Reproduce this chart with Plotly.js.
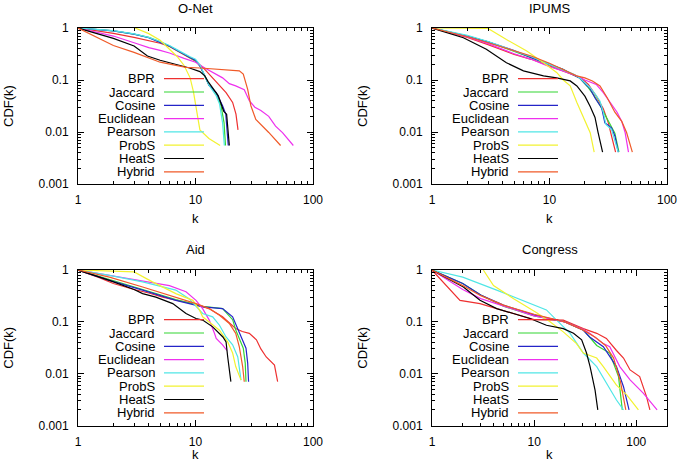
<!DOCTYPE html>
<html><head><meta charset="utf-8">
<script src="https://cdn.plot.ly/plotly-3.0.1.min.js"></script>
<style>html,body{margin:0;padding:0;background:#fff}</style>
</head><body><div id="chart" style="width:681px;height:466px"></div>
<script>
// ---------- categories / labels ----------
const methods = ['BPR','Jaccard','Cosine','Euclidean','Pearson','ProbS','HeatS','Hybrid'];
const datasets = ['O-Net','IPUMS','Aid','Congress'];
const xTickVals = [1, 10, 100];
const xTickText = ['1', '10', '100'];
const yTickVals = [0.001, 0.01, 0.1, 1];
const yTickText = ['0.001', '0.01', '0.1', '1'];
const xTitle = 'k';
const yTitle = 'CDF(k)';

// ---------- O-Net  [k, CDF(k)] ----------
const onetBPR = [[1,1],[2,0.79],[3,0.66],[4,0.58],[5,0.51],[6,0.44],[8,0.3],[10.2,0.225],[12,0.16],[14.5,0.1],[16,0.075],[18.2,0.057],[20.7,0.037],[22.1,0.022],[23,0.011]];
const onetJaccard = [[1,1],[2,0.88],[3,0.76],[4,0.66],[5,0.54],[6,0.45],[7,0.37],[8,0.31],[9,0.27],[10,0.235],[11,0.18],[12,0.12],[13,0.08],[15,0.055],[16.5,0.032],[17.5,0.015],[18,0.0055]];
const onetCosine = [[1,1],[2,0.88],[3,0.76],[4,0.65],[5,0.53],[6,0.45],[7,0.37],[8,0.31],[9,0.27],[10,0.24],[11,0.18],[12,0.12],[13,0.08],[15,0.057],[17,0.032],[18.1,0.022],[19,0.0055]];
const onetEuclidean = [[1,1],[2,0.7],[3,0.52],[4,0.42],[5,0.37],[6,0.33],[8,0.26],[10,0.22],[12,0.17],[14,0.14],[17,0.11],[19.4,0.085],[22,0.077],[26,0.065],[28.7,0.04],[32,0.03],[36,0.026],[42,0.02],[48,0.013],[55,0.0097],[68,0.0055]];
const onetPearson = [[1,1],[2,0.89],[3,0.77],[4,0.66],[5,0.55],[6,0.46],[7,0.38],[8,0.32],[9,0.28],[10,0.25],[11,0.19],[12,0.12],[13,0.08],[15,0.05],[16,0.035],[17,0.015],[17.6,0.0055]];
const onetProbS = [[3.06,1],[4,0.78],[5,0.58],[6,0.4],[7,0.28],[8,0.19],[9,0.11],[9.6,0.06],[10.2,0.025],[10.9,0.011],[13,0.0075],[16.2,0.0055]];
const onetHeatS = [[1,1],[2,0.63],[3,0.45],[3.9,0.29],[5,0.24],[6.8,0.2],[8.9,0.17],[10.9,0.145],[12,0.12],[12.8,0.093],[14,0.07],[15.6,0.05],[17.4,0.025],[18.4,0.022],[19.4,0.0055]];
const onetHybrid = [[1,1],[2,0.46],[3,0.34],[4,0.27],[5,0.22],[6.5,0.195],[8.3,0.175],[11,0.17],[17,0.16],[21,0.155],[23.6,0.15],[25.5,0.13],[26.5,0.1],[27.8,0.066],[29.6,0.032],[32.6,0.0175],[42,0.0098],[53,0.0055]];

// ---------- IPUMS ----------
const ipumsBPR = [[1,1],[2,0.66],[3,0.48],[5,0.31],[7,0.25],[10,0.19],[13,0.15],[16,0.125],[18.5,0.11],[21.4,0.082],[25,0.049],[28.7,0.028],[31.7,0.015],[33.7,0.0084],[36.5,0.0041]];
const ipumsJaccard = [[1,1],[2,0.7],[3,0.54],[5,0.36],[7,0.27],[10,0.2],[13,0.16],[16,0.125],[18,0.11],[21,0.075],[24,0.05],[27,0.032],[30,0.02],[33,0.014],[36,0.0095],[39,0.0041]];
const ipumsCosine = [[1,1],[2,0.7],[3,0.54],[5,0.37],[7,0.27],[10,0.2],[13,0.16],[16,0.125],[18,0.11],[20.6,0.08],[22,0.07],[24.4,0.045],[27.8,0.029],[29.6,0.015],[33.7,0.012],[36,0.0084],[38.5,0.0041]];
const ipumsEuclidean = [[1,1],[2,0.67],[3,0.5],[5,0.32],[7,0.25],[10,0.18],[13,0.15],[17,0.12],[20,0.1],[25,0.082],[28.7,0.057],[32.9,0.037],[37.6,0.024],[41.2,0.016],[44,0.0098],[47,0.0041]];
const ipumsPearson = [[1,1],[2,0.72],[3,0.55],[5,0.37],[7,0.28],[10,0.2],[13,0.16],[16,0.13],[18,0.11],[22.2,0.071],[25,0.05],[26.9,0.039],[28.7,0.024],[30.2,0.014],[33.7,0.0112],[38.5,0.0041]];
const ipumsProbS = [[1,1],[3,0.98],[4.3,0.6],[6.4,0.36],[8.9,0.215],[11.5,0.14],[13.1,0.1],[15,0.077],[17.1,0.037],[19.4,0.019],[22.2,0.0097],[24,0.0041]];
const ipumsHeatS = [[1,1],[1.85,0.65],[2.9,0.39],[4.3,0.215],[6,0.15],[8.9,0.12],[11.5,0.11],[15,0.096],[17.1,0.077],[20,0.049],[22.2,0.031],[24.4,0.019],[25.9,0.0098],[28.3,0.0041]];
const ipumsHybrid = [[1,1],[2,0.68],[3,0.52],[5,0.36],[7,0.29],[10,0.21],[13,0.16],[17,0.12],[20,0.11],[23.2,0.096],[26.9,0.077],[30.9,0.046],[36,0.024],[41.2,0.016],[45.3,0.0098],[50.7,0.0041]];

// ---------- Aid ----------
const aidBPR = [[1,1],[1.5,0.72],[2,0.55],[3,0.42],[4,0.36],[5.25,0.3],[7,0.26],[10,0.22],[13,0.18],[15,0.15],[17,0.125],[20,0.09],[22,0.074],[25,0.065],[28.7,0.06],[33,0.045],[36,0.03],[40,0.021],[47,0.0146],[50,0.007]];
const aidJaccard = [[1,1],[1.85,0.65],[3.55,0.42],[6.8,0.27],[11.5,0.2],[17,0.18],[20.7,0.11],[22,0.07],[25.5,0.031],[26.5,0.016],[26.9,0.007]];
const aidCosine = [[1,1],[1.85,0.63],[3.55,0.41],[6.8,0.26],[11.5,0.195],[17,0.18],[20.7,0.125],[23.6,0.064],[26.9,0.031],[27.8,0.016],[28.3,0.007]];
const aidEuclidean = [[1,1],[1.85,0.79],[3.55,0.63],[6,0.5],[8.3,0.38],[10.1,0.26],[11.5,0.18],[13.1,0.108],[14.5,0.06],[15,0.048],[17,0.036],[18.5,0.028]];
const aidPearson = [[1,1],[1.85,0.79],[3.55,0.59],[6.8,0.41],[8.8,0.28],[10,0.2],[11.5,0.145],[14,0.125],[16,0.086],[18.2,0.051],[20.7,0.036],[22.9,0.021],[24.4,0.0075]];
const aidProbS = [[1,1],[3,0.92],[4.3,0.59],[6.8,0.35],[9.5,0.26],[10.8,0.17],[11.5,0.125],[13.1,0.1],[16,0.069],[18.8,0.041],[20.7,0.025],[22,0.0137],[24.4,0.0075]];
const aidHeatS = [[1,1],[1.85,0.63],[3,0.42],[3.55,0.35],[4.6,0.3],[6.4,0.225],[8.3,0.145],[10.1,0.116],[11.5,0.108],[14,0.08],[17.1,0.051],[18.2,0.041],[18.8,0.021],[20,0.007]];
const aidHybrid = [[1,1],[1.85,0.73],[3.55,0.47],[6.8,0.3],[10.1,0.225],[13.1,0.18],[16,0.134],[19.4,0.093],[22,0.06],[23.6,0.033],[25.2,0.0137],[26,0.007]];

// ---------- Congress ----------
const congBPR = [[1,1],[1.88,0.26],[2.95,0.225],[6.25,0.145],[10,0.11],[19.3,0.108],[30.3,0.074],[41,0.06],[51,0.048],[64,0.028],[75,0.02],[87,0.0118],[108,0.0088],[126,0.0036],[136,0.002]];
const congJaccard = [[1,1],[2,0.55],[3,0.33],[5,0.2],[10,0.13],[20,0.1],[30.3,0.07],[41,0.035],[55,0.025],[67,0.0088],[73,0.002]];
const congCosine = [[1,1],[2,0.55],[3,0.33],[5,0.21],[10,0.135],[20,0.1],[30,0.07],[35,0.051],[47.6,0.033],[64,0.0137],[75,0.0056],[85,0.002]];
const congEuclidean = [[1,1],[2,0.42],[3,0.28],[5,0.2],[10,0.13],[20,0.1],[30,0.072],[35,0.06],[47.6,0.038],[55,0.033],[69,0.0137],[87,0.0076],[117,0.0042],[160,0.002]];
const congPearson = [[1,1],[2,0.73],[4.3,0.41],[7.8,0.26],[13.2,0.17],[16.6,0.108],[22.5,0.06],[30.3,0.025],[41,0.0137],[51,0.0066],[64,0.0031],[75,0.002]];
const congProbS = [[3.18,1],[4,0.5],[6.3,0.28],[10.6,0.15],[14.3,0.1],[19.3,0.064],[26,0.038],[30.3,0.025],[41,0.02],[47.6,0.0137],[64,0.006],[80.6,0.0039],[105,0.002]];
const congHeatS = [[1,1],[2.03,0.47],[2.95,0.26],[4.3,0.18],[6.25,0.145],[9.1,0.116],[13.2,0.086],[19.3,0.074],[24.3,0.06],[29.2,0.045],[32.6,0.025],[35.3,0.0137],[39.5,0.0048],[42,0.002]];
const congHybrid = [[1,1],[2,0.5],[3,0.32],[5,0.21],[10,0.14],[20,0.1],[30,0.07],[40,0.05],[50,0.035],[60,0.02],[70,0.007],[79,0.002]];

const curves = [
  [onetBPR, onetJaccard, onetCosine, onetEuclidean, onetPearson, onetProbS, onetHeatS, onetHybrid],
  [ipumsBPR, ipumsJaccard, ipumsCosine, ipumsEuclidean, ipumsPearson, ipumsProbS, ipumsHeatS, ipumsHybrid],
  [aidBPR, aidJaccard, aidCosine, aidEuclidean, aidPearson, aidProbS, aidHeatS, aidHybrid],
  [congBPR, congJaccard, congCosine, congEuclidean, congPearson, congProbS, congHeatS, congHybrid]
];

// ---------- styling ----------
const colors = ['#ee3030','#33d633','#2424c8','#ee30ee','#50e6e6','#f2f230','#000000','#f05a28'];
const W = 681, H = 466;
const FONT = 'Liberation Sans, Arial, sans-serif';
const px = v => v / W;
const py = v => 1 - v / H;
// plot boxes in pixels [left, right, top, bottom]
const boxes = [[78,313,28,184],[432,667,28,184],[78,313,270,425.5],[432,667,270,425.5]];
const xMax = [100, 100, 100, 200];

function minorVals(lo, hi) {
  const out = [];
  for (let d = lo; d < hi; d *= 10) for (let j = 2; j <= 9; j++) { const v = j * d; if (v < hi * 1.0001) out.push(v); }
  return out;
}

const traces = [];
curves.forEach((set, d) => {
  const ax = d === 0 ? '' : String(d + 1);
  set.forEach((pts, m) => {
    traces.push({
      type: 'scatter', mode: 'lines', name: methods[m],
      x: pts.map(p => p[0]), y: pts.map(p => p[1]),
      xaxis: 'x' + ax, yaxis: 'y' + ax,
      line: {color: colors[m], width: 1.2},
      showlegend: false, hoverinfo: 'skip'
    });
  });
});

const layout = {
  width: W, height: H, margin: {l: 0, r: 0, t: 0, b: 0},
  paper_bgcolor: '#fff', plot_bgcolor: '#fff',
  font: {family: FONT, size: 12, color: '#000'},
  showlegend: false, annotations: [], shapes: []
};

boxes.forEach((b, d) => {
  const ax = d === 0 ? '' : String(d + 1);
  const common = {
    type: 'log', showline: true, linecolor: '#000', linewidth: 1, mirror: 'allticks',
    ticks: 'inside', ticklen: 6, tickwidth: 1, tickcolor: '#000',
    showgrid: false, zeroline: false, tickmode: 'array',
    tickfont: {family: FONT, size: 12, color: '#000'}
  };
  layout['xaxis' + ax] = Object.assign({}, common, {
    domain: [px(b[0]), px(b[1])], anchor: 'y' + ax,
    range: [0, Math.log10(xMax[d])],
    tickvals: xTickVals, ticktext: xTickText, ticklabelstandoff: 5,
    minor: {ticks: 'inside', ticklen: 3, tickwidth: 1, tickcolor: '#000', tickmode: 'array', tickvals: minorVals(1, xMax[d]), showgrid: false}
  });
  layout['yaxis' + ax] = Object.assign({}, common, {
    domain: [py(b[3]), py(b[2])], anchor: 'x' + ax,
    range: [-3, 0],
    tickvals: yTickVals, ticktext: yTickText, ticklabelstandoff: 6,
    minor: {ticks: 'inside', ticklen: 3, tickwidth: 1, tickcolor: '#000', tickmode: 'array', tickvals: minorVals(0.001, 1), showgrid: false}
  });
  const cx = (b[0] + b[1]) / 2;
  // subplot title
  layout.annotations.push({text: datasets[d], xref: 'paper', yref: 'paper', x: px(cx), y: py(b[2] - 20), xanchor: 'center', yanchor: 'middle', showarrow: false, font: {family: FONT, size: 13, color: '#000'}});
  // axis titles
  layout.annotations.push({text: xTitle, xref: 'paper', yref: 'paper', x: px(cx), y: py(b[3] + (d < 2 ? 34 : 29)), xanchor: 'center', yanchor: 'middle', showarrow: false, font: {family: FONT, size: 13, color: '#000'}});
  layout.annotations.push({text: yTitle, xref: 'paper', yref: 'paper', x: px(b[0] - 69), y: py((b[2] + b[3]) / 2), xanchor: 'center', yanchor: 'middle', textangle: -90, showarrow: false, font: {family: FONT, size: 13, color: '#000'}});
  // key
  const rowTop = b[2] + (d < 2 ? 50.7 : 49.7);
  methods.forEach((name, m) => {
    const ry = rowTop + 13.3 * m;
    layout.annotations.push({text: name, xref: 'paper', yref: 'paper', x: px(b[0] + 79), y: py(ry), xanchor: 'right', yanchor: 'middle', showarrow: false, font: {family: FONT, size: 13, color: '#000'}});
    layout.shapes.push({type: 'line', xref: 'paper', yref: 'paper', x0: px(b[0] + 86), x1: px(b[0] + 126), y0: py(ry), y1: py(ry), line: {color: colors[m], width: 1.2}});
  });
});

Plotly.newPlot('chart', traces, layout, {staticPlot: true, displayModeBar: false});
</script></body></html>
